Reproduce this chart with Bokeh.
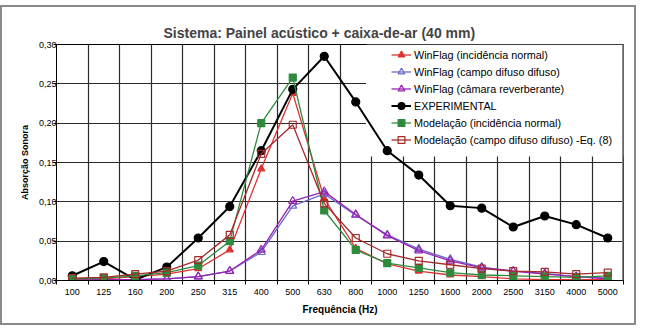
import numpy as np
from bokeh.plotting import figure
from bokeh.models import FixedTicker, Span, BoxAnnotation
from bokeh.embed import file_html
from bokeh.resources import INLINE

freqs = ["100", "125", "160", "200", "250", "315", "400", "500", "630", "800",
         "1000", "1250", "1600", "2000", "2500", "3150", "4000", "5000"]
winflag_normal = [0.001, 0.002, 0.005, 0.008, 0.015, 0.039, 0.142, 0.238, 0.104, 0.041,
                  0.021, 0.012, 0.007, 0.005, 0.002, 0.001, 0.001, 0.001]
winflag_difuso = [0.000, 0.001, 0.001, 0.002, 0.005, 0.012, 0.036, 0.095, 0.110, 0.083,
                  0.058, 0.040, 0.027, 0.017, 0.012, 0.009, 0.005, 0.003]
winflag_camara = [0.000, 0.001, 0.001, 0.002, 0.005, 0.012, 0.039, 0.101, 0.113, 0.084,
                  0.057, 0.038, 0.025, 0.016, 0.012, 0.008, 0.005, 0.002]
experimental = [0.006, 0.024, 0.001, 0.017, 0.054, 0.094, 0.165, 0.243, 0.285, 0.227,
                0.165, 0.134, 0.095, 0.092, 0.068, 0.082, 0.071, 0.054]
model_normal = [0.002, 0.003, 0.006, 0.010, 0.019, 0.050, 0.200, 0.258, 0.089, 0.039,
                0.022, 0.016, 0.010, 0.007, 0.006, 0.005, 0.004, 0.006]
model_difuso = [0.003, 0.004, 0.008, 0.012, 0.026, 0.058, 0.161, 0.198, 0.098, 0.054,
                0.034, 0.025, 0.020, 0.015, 0.012, 0.011, 0.008, 0.010]
y_ticks = [0, 0.05, 0.1, 0.15, 0.2, 0.25, 0.3]
y_tick_labels = ["0,00", "0,05", "0,10", "0,15", "0,20", "0,25", "0,30"]

FONT = "Liberation Sans"
n = len(freqs)
xc = (np.arange(n) + 0.5).tolist()
bounds = list(range(n + 1))

p = figure(frame_width=567, frame_height=236, x_range=(0, n), y_range=(0, 0.30),
           output_backend="svg", toolbar_location=None,
           min_border_left=54, min_border_right=11, min_border_top=37, min_border_bottom=43)
p.styles = {"border": "2px solid #8a8a8a", "margin-top": "5px"}
p.outline_line_color = "black"
p.outline_line_width = 1

p.title.text = "Sistema: Painel acústico + caixa-de-ar (40 mm)"
p.title.text_font = FONT
p.title.text_font_size = "14px"
p.title.text_font_style = "bold"
p.title.align = "left"
p.title.offset = 107
p.title.standoff = 8

# x axis
p.xaxis.ticker = FixedTicker(ticks=xc, minor_ticks=bounds)
p.xaxis.major_label_overrides = {x: f for x, f in zip(xc, freqs)}
p.xaxis.major_tick_line_color = None
p.xaxis.major_tick_out = 0
p.xaxis.major_tick_in = 0
p.xaxis.minor_tick_out = 4
p.xaxis.minor_tick_in = 0
p.xaxis.minor_tick_line_color = "black"
p.xaxis.major_label_standoff = 4
p.xaxis.axis_label = "Frequência (Hz)"
p.xaxis.axis_label_standoff = 6

# y axis
p.yaxis.ticker = FixedTicker(ticks=y_ticks)
p.yaxis.major_label_overrides = {t: l for t, l in zip(y_ticks, y_tick_labels)}
p.yaxis.major_tick_out = 3
p.yaxis.major_tick_in = 0
p.yaxis.minor_tick_line_color = None
p.yaxis.major_label_standoff = -3
p.yaxis.axis_label = "Absorção Sonora"
p.yaxis.axis_label_standoff = 6

for ax in (p.xaxis, p.yaxis):
    ax.axis_line_color = "black"
    ax.major_label_text_font = FONT
    ax.major_label_text_font_size = "9px"
    ax.major_label_text_color = "black"
    ax.axis_label_text_font = FONT
    ax.axis_label_text_font_style = "bold"
    ax.axis_label_text_color = "black"
p.xaxis.axis_label_text_font_size = "10px"
p.yaxis.axis_label_text_font_size = "9px"

p.xgrid.ticker = FixedTicker(ticks=bounds)
for g in (p.xgrid, p.ygrid):
    g.grid_line_color = "#2a2a2a"
    g.grid_line_width = 1.2
    g.level = "image"

# white area behind the legend (frame-relative screen units, y upwards),
# drawn above the grid but below the series
legend_bg = BoxAnnotation(left=309.5, right=567, bottom=124, top=236,
                          left_units="screen", right_units="screen",
                          top_units="screen", bottom_units="screen",
                          fill_color="white", fill_alpha=1.0, line_color=None,
                          level="underlay")
p.add_layout(legend_bg)

p.add_layout(Span(location=n, dimension="height", line_color="#8a8a8a", line_width=3))

series = [
    ("WinFlag (incidência normal)", winflag_normal, "#dd3333", "triangle", "#dd3333", 1.3, 7),
    ("WinFlag (campo difuso difuso)", winflag_difuso, "#6a6acc", "triangle", None, 1.3, 8),
    ("WinFlag (câmara reverberante)", winflag_camara, "#9a20b4", "triangle", None, 1.3, 8),
    ("EXPERIMENTAL", experimental, "black", "circle", "black", 2.0, 8),
    ("Modelação (incidência normal)", model_normal, "#2e8b3e", "square", "#2e8b3e", 1.3, 7),
    ("Modelação (campo difuso difuso) -Eq. (8)", model_difuso, "#a52a2a", "square", None, 1.3, 7),
]
for label, vals, col, mk, fill, lw, sz in series:
    p.line(xc, vals, line_color=col, line_width=lw, legend_label=label)
    p.scatter(xc, vals, marker=mk, size=sz, line_color=col, line_width=1.2,
              fill_color=fill, legend_label=label)

lg = p.legend[0]
lg.location = (335, 132)
lg.background_fill_alpha = 0
lg.border_line_color = None
lg.padding = 2
lg.margin = 0
lg.spacing = 0
lg.label_height = 17
lg.glyph_height = 17
lg.glyph_width = 20
lg.label_standoff = 3
lg.label_text_font = FONT
lg.label_text_font_size = "10.8px"
lg.label_text_color = "black"

open("out.html", "w").write(file_html(p, INLINE))
